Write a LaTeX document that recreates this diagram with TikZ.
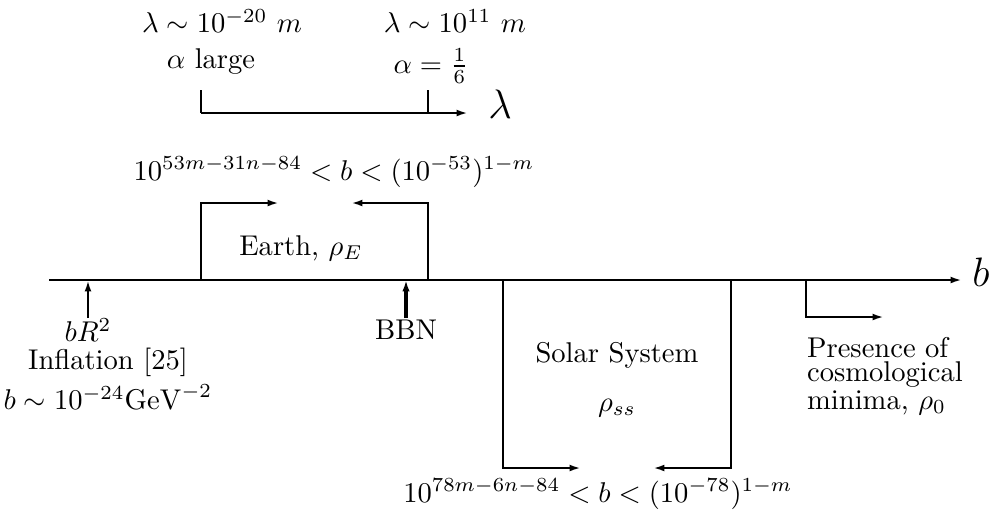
\documentclass[tikz,border=0pt]{standalone}
\usetikzlibrary{arrows.meta}
\begin{document}
\begin{tikzpicture}[x=0.35pt,y=-0.35pt,line width=0.8pt,
  arr/.style={-{Latex[length=4pt,width=2.4pt]}},
  thickarr/.style={line width=1.2pt,-{Latex[length=4pt,width=2.6pt]}},
  txt/.style={inner sep=0pt,anchor=center},
  big/.style={inner sep=0pt,font=\fontsize{15}{18}\selectfont}]
\useasboundingbox (0,0) rectangle (991,510);
% top lambda axis
\coordinate (t0) at (201,90); \coordinate (l0) at (201,113);
\coordinate (l1) at (468,113);
\coordinate (t1) at (428,90); \coordinate (t1b) at (428,113);
\draw (t0) -- (l0);
\draw[arr] (l0) -- (l1);
\draw (t1) -- (t1b);
\node[big] (lam) at (500,104) {$\lambda$};
\node[txt] (lamA) at (222,21) {$\lambda\sim10^{-20}\ m$};
\node[txt] (alA) at (211,62) {$\alpha$ large};
\node[txt] (lamB) at (455,21) {$\lambda\sim10^{11}\ m$};
\node[txt] (alB) at (431,66) {$\alpha=\frac{1}{6}$};
% main b axis
\coordinate (b0) at (49,280); \coordinate (b1) at (962,280);
\draw[arr] (b0) -- (b1);
\node[big] (bl) at (981,272) {$b$};
% Earth box
\coordinate (e0) at (201,280); \coordinate (e0t) at (201,203); \coordinate (e0a) at (279,203);
\coordinate (e1) at (428,280); \coordinate (e1t) at (428,203); \coordinate (e1a) at (351,203);
\draw[arr] (e0) -- (e0t) -- (e0a);
\draw[arr] (e1) -- (e1t) -- (e1a);
\node[txt] (earth) at (301,248) {Earth, $\rho_E$};
\node[txt] (efor) at (334,172) {$10^{53m-31n-84}<b<(10^{-53})^{1-m}$};
% Inflation arrow
\coordinate (i0) at (88,318); \coordinate (i1) at (88,280);
\draw[arr] (i0) -- (i1);
\node[txt] (bR) at (88,330) {$bR^2$};
\node[txt] (infl) at (108,362) {Inflation [25]};
\node[txt] (binf) at (108,397) {$b\sim10^{-24}\mathrm{GeV}^{-2}$};
% BBN arrow
\coordinate (n0) at (406,318); \coordinate (n1) at (406,280);
\draw[thickarr] (n0) -- (n1);
\node[txt] (bbn) at (406,330) {BBN};
% Solar system box
\coordinate (s0) at (503,280); \coordinate (s0b) at (503,468); \coordinate (s0a) at (581,468);
\coordinate (s1) at (731,280); \coordinate (s1b) at (731,468); \coordinate (s1a) at (653,468);
\draw[arr] (s0) -- (s0b) -- (s0a);
\draw[arr] (s1) -- (s1b) -- (s1a);
\node[txt] (solar) at (617,355) {Solar System};
\node[txt] (rss) at (617,408) {$\rho_{ss}$};
\node[txt] (sfor) at (598,494) {$10^{78m-6n-84}<b<(10^{-78})^{1-m}$};
% Presence
\coordinate (p0) at (806,280); \coordinate (p0b) at (806,317); \coordinate (p1) at (884,317);
\draw[arr] (p0) -- (p0b) -- (p1);
\node[inner sep=0pt,anchor=north west,align=left,font=\fontsize{10}{8.6}\selectfont] (pres) at (806,336) {Presence of\\cosmological\\minima, $\rho_0$};
\end{tikzpicture}
\end{document}
